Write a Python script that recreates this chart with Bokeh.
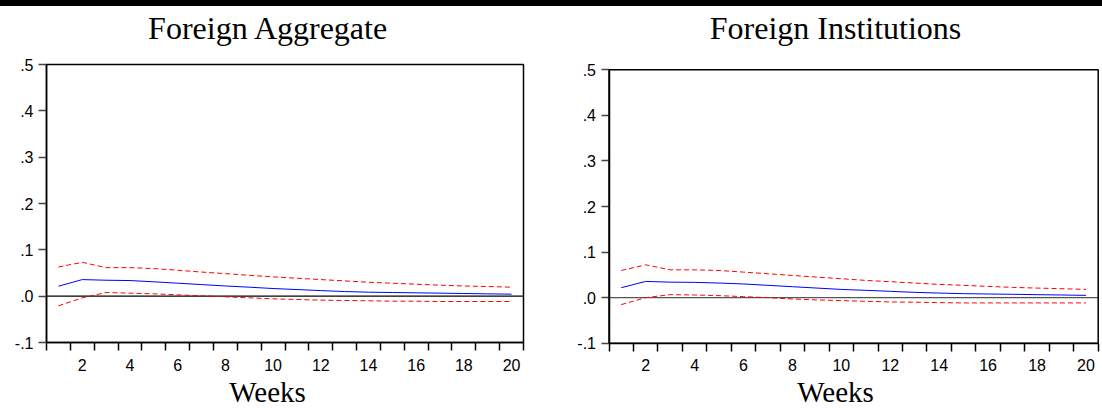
from bokeh.plotting import figure
from bokeh.layouts import row, column
from bokeh.models import (Range1d, FixedTicker, CustomJSTickFormatter, Div, Label,
                          BoxAnnotation)
from bokeh.embed import file_html
from bokeh.resources import INLINE

weeks = list(range(1, 21))

agg_resp = [0.0215, 0.0358, 0.0344, 0.0337, 0.031, 0.028, 0.025, 0.022, 0.0194, 0.0165,
            0.0143, 0.012, 0.010, 0.0086, 0.0079, 0.0072, 0.0065, 0.0057, 0.005, 0.0043]
agg_upper = [0.063, 0.073, 0.0616, 0.0616, 0.0595, 0.056, 0.052, 0.0487, 0.045, 0.0416,
             0.0387, 0.0358, 0.033, 0.030, 0.028, 0.0258, 0.0237, 0.022, 0.0208, 0.0194]
agg_lower = [-0.0208, -0.0036, 0.0079, 0.0065, 0.005, 0.0029, 0.0007, -0.0014, -0.0036, -0.0057,
             -0.0072, -0.0086, -0.0093, -0.010, -0.0108, -0.0108, -0.0115, -0.0115, -0.0115, -0.0115]

inst_resp = [0.0218, 0.0356, 0.034, 0.0335, 0.032, 0.030, 0.027, 0.024, 0.021, 0.018,
             0.016, 0.0138, 0.0116, 0.010, 0.0087, 0.008, 0.0073, 0.0065, 0.0058, 0.005]
inst_upper = [0.0596, 0.072, 0.061, 0.061, 0.0596, 0.056, 0.0524, 0.0487, 0.045, 0.0415,
              0.0378, 0.035, 0.032, 0.029, 0.027, 0.0247, 0.0225, 0.021, 0.0196, 0.018]
inst_lower = [-0.0153, 0.0, 0.0065, 0.0058, 0.0044, 0.0022, 0.0, -0.003, -0.005, -0.0065,
              -0.008, -0.0095, -0.010, -0.011, -0.0116, -0.0116, -0.0116, -0.0116, -0.0116, -0.0116]

y_ticks = [-0.1, 0.0, 0.1, 0.2, 0.3, 0.4, 0.5]
x_label_ticks = [2, 4, 6, 8, 10, 12, 14, 16, 18, 20]
x_minor_ticks = [w - 0.5 for w in range(1, 22)]

titles = ["Foreign Aggregate", "Foreign Institutions"]
x_title = "Weeks"

SERIF = "Liberation Serif"
SANS = "Liberation Sans"

X_LO, X_HI = 0.5, 20.5
Y_LO, Y_HI = -0.1, 0.5
BAR_H = 6


def make_panel(title, resp, upper, lower, fig_w, fig_h, fx0, fx1, fy_top, fy_bot,
               zero_color, title_px, weeks_px, title_py, weeks_py):
    # fx0/fx1/fy_top/fy_bot: pixel position of the plot box inside the figure
    ppx = (fx1 - fx0) / (X_HI - X_LO)
    ppy = (fy_bot - fy_top) / (Y_HI - Y_LO)
    x_start = X_LO - fx0 / ppx
    x_end = X_HI + (fig_w - fx1) / ppx
    y_end = Y_HI + fy_top / ppy
    y_start = Y_LO - (fig_h - fy_bot) / ppy

    p = figure(width=fig_w, height=fig_h, output_backend="svg", toolbar_location=None,
               x_range=Range1d(x_start, x_end), y_range=Range1d(y_start, y_end),
               min_border=0, min_border_left=0, min_border_right=0,
               min_border_top=0, min_border_bottom=0)
    p.grid.visible = False
    p.outline_line_color = None
    p.background_fill_color = None
    p.border_fill_color = None

    xa = p.xaxis[0]
    xa.fixed_location = Y_LO
    xa.bounds = (X_LO, X_HI)
    xa.ticker = FixedTicker(ticks=x_label_ticks, minor_ticks=x_minor_ticks)
    xa.major_tick_out = 0
    xa.major_tick_in = 0
    xa.minor_tick_out = 8
    xa.minor_tick_in = 0
    xa.minor_tick_line_color = "black"
    xa.minor_tick_line_width = 1.5
    xa.axis_line_color = "black"
    xa.axis_line_width = 1.5
    xa.major_label_text_font = SANS
    xa.major_label_text_font_size = "16px"
    xa.major_label_text_color = "black"
    xa.major_label_standoff = 8

    ya = p.yaxis[0]
    ya.fixed_location = X_LO
    ya.bounds = (Y_LO, Y_HI)
    ya.ticker = FixedTicker(ticks=y_ticks, minor_ticks=[])
    ya.formatter = CustomJSTickFormatter(code="return tick.toFixed(1).replace('0.', '.');")
    ya.major_tick_out = 8
    ya.major_tick_in = 0
    ya.major_tick_line_color = "#444444"
    ya.major_tick_line_width = 1.5
    ya.axis_line_color = "black"
    ya.axis_line_width = 1.5
    ya.major_label_text_font = SANS
    ya.major_label_text_font_size = "16px"
    ya.major_label_text_color = "black"
    ya.major_label_standoff = 5

    # plot box
    p.add_layout(BoxAnnotation(left=X_LO, right=X_HI, bottom=Y_LO, top=Y_HI,
                               fill_alpha=0, line_color="black", line_alpha=1.0,
                               line_width=1.5, level="overlay"))

    def to_x(px):
        return x_start + px / ppx

    def to_y(py):
        return y_end - py / ppy

    p.add_layout(Label(x=to_x(title_px), y=to_y(title_py), text=title,
                       text_align="center", text_baseline="middle",
                       text_font=SERIF, text_font_size="32px", text_color="black"))
    p.add_layout(Label(x=to_x(weeks_px), y=to_y(weeks_py), text=x_title,
                       text_align="center", text_baseline="middle",
                       text_font=SERIF, text_font_size="29px", text_color="black"))

    p.segment(x0=[X_LO], y0=[0.0], x1=[X_HI], y1=[0.0], line_color=zero_color, line_width=1.2)
    p.line(weeks, upper, line_color="#ff0000", line_width=1, line_dash="5 3")
    p.line(weeks, lower, line_color="#ff0000", line_width=1, line_dash="5 3")
    p.line(weeks, resp, line_color="#0000ff", line_width=1)
    return p


FIG_H = 408 - BAR_H
p1 = make_panel(titles[0], agg_resp, agg_upper, agg_lower, 560, FIG_H,
                46, 523, 64 - BAR_H, 342 - BAR_H, "black",
                268, 267, 27.5 - BAR_H, 391 - BAR_H)
p2 = make_panel(titles[1], inst_resp, inst_upper, inst_lower, 542, FIG_H,
                48.5, 537.7, 69.3 - BAR_H, 342.7 - BAR_H, "#555555",
                275, 275, 27.5 - BAR_H, 391 - BAR_H)

bar = Div(text="", width=1102, height=BAR_H, margin=0, styles={"background-color": "black"})
layout = column(bar, row(p1, p2, spacing=0, margin=0), spacing=0, margin=0)

open("out.html", "w").write(file_html(layout, INLINE))
